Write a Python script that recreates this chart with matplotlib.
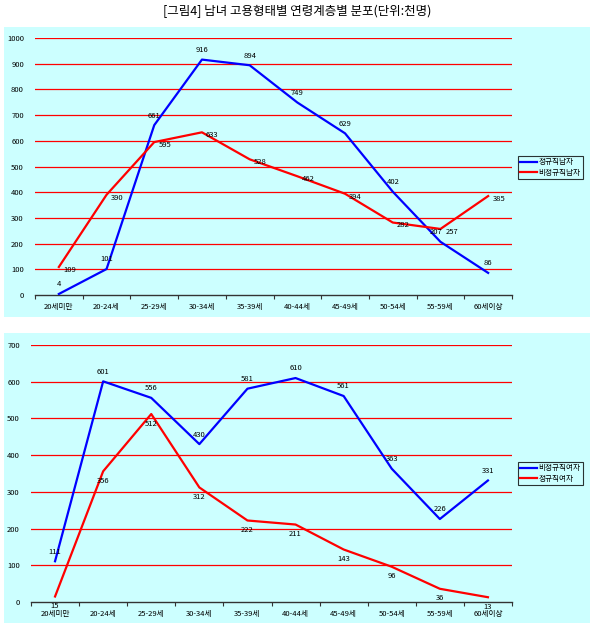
import matplotlib
matplotlib.use("Agg")
import matplotlib.pyplot as plt
from matplotlib.patches import Rectangle

plt.rcParams["font.family"] = ["Noto Sans CJK KR", "DejaVu Sans"]

# ------------------------------------------------------------
# Data (thousand persons)
# ------------------------------------------------------------

AGE_GROUPS = ["20세미만", "20-24세", "25-29세", "30-34세", "35-39세",
              "40-44세", "45-49세", "50-54세", "55-59세", "60세이상"]

MEN_REGULAR = [4, 101, 661, 916, 894, 749, 629, 402, 207, 86]
MEN_IRREGULAR = [109, 390, 595, 633, 528, 462, 394, 282, 257, 385]

WOMEN_IRREGULAR = [111, 601, 556, 430, 581, 610, 561, 363, 226, 331]
WOMEN_REGULAR = [15, 356, 512, 312, 222, 211, 143, 96, 36, 13]

TOP_LABELS = ["정규직남자", "비정규직남자"]
BOTTOM_LABELS = ["비정규직여자", "정규직여자"]

TITLE = "[그림4] 남녀 고용형태별 연령계층별 분포(단위:천명)"

W, H = 595, 632
BG = "#CCFFFF"
BLUE = "#0000FF"
RED = "#FF0000"


def px_rect(left, top, right, bottom):
    return [left / W, (H - bottom) / H, (right - left) / W, (bottom - top) / H]


def style_axes(ax, ymax):
    x = range(len(AGE_GROUPS))
    ax.set_facecolor("none")
    ax.set_xlim(-0.5, len(AGE_GROUPS) - 0.5)
    ax.set_ylim(0, ymax)
    ax.set_yticks(range(0, ymax + 1, 100))
    for v in range(100, ymax + 1, 100):
        ax.axhline(v, color=RED, lw=0.9, zorder=1)
    for s in ["top", "right", "left"]:
        ax.spines[s].set_visible(False)
    ax.spines["bottom"].set_color("#333333")
    ax.spines["bottom"].set_linewidth(1.0)
    ax.set_xticks([i + 0.5 for i in range(-1, len(AGE_GROUPS))])
    ax.set_xticklabels([])
    ax.set_xticks(list(x), minor=True)
    ax.set_xticklabels(AGE_GROUPS, minor=True, fontsize=5.5)
    ax.tick_params(axis="x", which="major", length=3, color="#333333")
    ax.tick_params(axis="x", which="minor", length=0, pad=6)
    ax.tick_params(axis="y", length=0, labelsize=5.5, pad=8)


def add_labels(ax, values, dx, dy, ha, va, nudge=None):
    nudge = nudge or {}
    for i, v in enumerate(values):
        ox = dx + nudge.get(i, 0)
        ax.annotate(str(v), (i, v), xytext=(ox, dy), textcoords="offset points",
                    ha=ha, va=va, fontsize=5.5, zorder=4)


fig = plt.figure(figsize=(W / 100, H / 100), dpi=100)

fig.patches.append(Rectangle((4 / W, (H - 317) / H), 586 / W, 290 / H,
                             transform=fig.transFigure, facecolor=BG,
                             edgecolor="none", zorder=-10))
fig.patches.append(Rectangle((4 / W, (H - 623) / H), 586 / W, 290 / H,
                             transform=fig.transFigure, facecolor=BG,
                             edgecolor="none", zorder=-10))

fig.text(0.5, (H - 11) / H, TITLE, ha="center", va="center", fontsize=9)

# Top panel: men
ax1 = fig.add_axes(px_rect(35, 38, 512, 295))
style_axes(ax1, 1000)
x = range(len(AGE_GROUPS))
l1, = ax1.plot(x, MEN_REGULAR, color=BLUE, lw=1.6, zorder=3)
l2, = ax1.plot(x, MEN_IRREGULAR, color=RED, lw=1.6, zorder=3)
add_labels(ax1, MEN_REGULAR, 0, 4, "center", "bottom", nudge={8: -3})
add_labels(ax1, MEN_IRREGULAR, 3, -2, "left", "center", nudge={8: 1})
leg1 = fig.legend([l1, l2], TOP_LABELS, loc="upper left",
                  bbox_to_anchor=(518 / W, (H - 156) / H), fontsize=5.5,
                  frameon=True, fancybox=False, handlelength=2.2,
                  handletextpad=0.2, borderpad=0.3, labelspacing=0.3,
                  borderaxespad=0)
leg1.get_frame().set_edgecolor("black")
leg1.get_frame().set_facecolor(BG)
leg1.get_frame().set_linewidth(0.8)

# Bottom panel: women
ax2 = fig.add_axes(px_rect(31, 345, 512, 602))
style_axes(ax2, 700)
l3, = ax2.plot(x, WOMEN_IRREGULAR, color=BLUE, lw=1.6, zorder=3)
l4, = ax2.plot(x, WOMEN_REGULAR, color=RED, lw=1.6, zorder=3)
add_labels(ax2, WOMEN_IRREGULAR, 0, 4, "center", "bottom")
add_labels(ax2, WOMEN_REGULAR, 0, -4, "center", "top")
leg2 = fig.legend([l3, l4], BOTTOM_LABELS, loc="upper left",
                  bbox_to_anchor=(518 / W, (H - 462) / H), fontsize=5.5,
                  frameon=True, fancybox=False, handlelength=2.2,
                  handletextpad=0.2, borderpad=0.3, labelspacing=0.3,
                  borderaxespad=0)
leg2.get_frame().set_edgecolor("black")
leg2.get_frame().set_facecolor(BG)
leg2.get_frame().set_linewidth(0.8)

fig.savefig("out.png", dpi=100, facecolor="white")
